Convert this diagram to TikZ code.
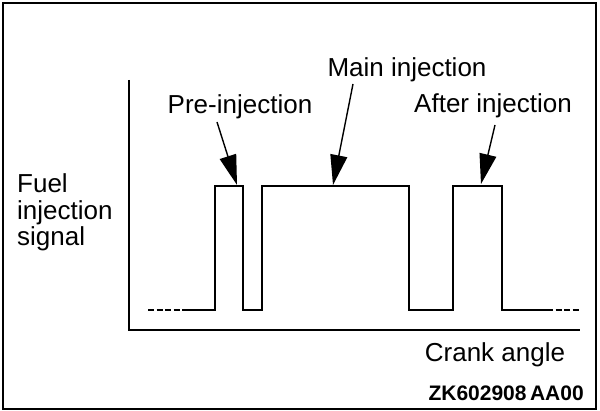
\documentclass[tikz,border=0pt]{standalone}
\usepackage{fontspec}
\setmainfont{Liberation Sans}
\usetikzlibrary{arrows.meta}
\begin{document}
\begin{tikzpicture}[x=1pt,y=-1pt,
  lbl/.style={font=\fontsize{26}{30}\selectfont, inner sep=0pt, anchor=base},
  sig/.style={line width=2.6pt, line join=miter},
  ax/.style={line width=1.8pt},
  pointer/.style={line width=1.4pt, -{Triangle[length=30pt,width=17pt]}, shorten >=0pt}]
\useasboundingbox (0,0) rectangle (600,411);
\draw[line width=2pt] (3,3) rectangle (596,409);
% axes
\coordinate (ytop) at (129,80);
\coordinate (orig) at (129,330);
\coordinate (xend) at (580,330);
\draw[ax] (ytop) -- (orig) -- (xend);
% signal
\coordinate (l0) at (148,310);
\coordinate (l1) at (183,310);
\coordinate (r1) at (547,310);
\coordinate (r0) at (580,310);
\draw[sig, dash pattern=on 6pt off 2.5pt] (l0) -- (l1);
\draw[sig] (l1) -- (215,310) -- (215,186) -- (243,186) -- (243,310) -- (262,310)
  -- (262,186) -- (409,186) -- (409,310) -- (453,310) -- (453,186) -- (502,186)
  -- (502,310) -- (r1);
\draw[sig, dash pattern=on 6pt off 2.5pt] (r1) -- (r0);
% labels
\node[lbl] (pre) at (240,114) {Pre-injection};
\node[lbl] (main) at (407,77) {Main injection};
\node[lbl] (after) at (493,113) {After injection};
\node[lbl, anchor=base west] (fuel) at (17,193) {Fuel};
\node[lbl, anchor=base west] (inj) at (17,220) {injection};
\node[lbl, anchor=base west] (signal) at (17,246) {signal};
\node[lbl] (crank) at (495,362) {Crank angle};
\node[font=\fontsize{21}{25}\selectfont\bfseries, inner sep=0pt, anchor=base east] (code) at (584,401) {ZK602908\,AA00};
% arrows
\coordinate (preS) at (217,122);
\coordinate (preT) at (237,185);
\coordinate (mainS) at (353,84);
\coordinate (mainT) at (333,185);
\coordinate (afterS) at (495,125);
\coordinate (afterT) at (481,184);
\draw[pointer] (preS) -- (preT);
\draw[pointer] (mainS) -- (mainT);
\draw[pointer] (afterS) -- (afterT);
\end{tikzpicture}
\end{document}
